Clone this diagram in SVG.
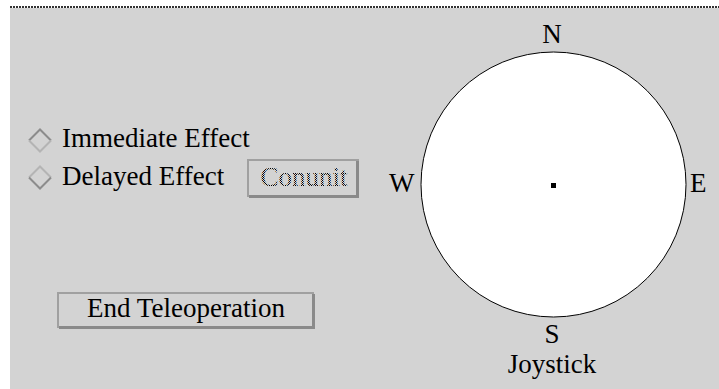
<svg xmlns="http://www.w3.org/2000/svg" width="719" height="389" viewBox="0 0 719 389">
<defs>
<pattern id="stip" width="2" height="2" patternUnits="userSpaceOnUse">
<rect x="0" y="0" width="1" height="1" fill="#000"/>
<rect x="1" y="1" width="1" height="1" fill="#000"/>
</pattern>
</defs>
<style>
.t{font-family:"Liberation Serif","Times New Roman",serif;font-size:27px;fill:#000}
.c{text-anchor:middle}
.dk{fill:none;stroke:#8c8c8c;stroke-width:2}
.lt{fill:none;stroke:#b4b4b4;stroke-width:2}
.btn-face{fill:#d3d3d3;stroke:#a0a0a0;stroke-width:2}
.btn-shadow{fill:none;stroke:#8a8a8a;stroke-width:3}
</style>
<rect x="0" y="0" width="719" height="389" fill="#fff"/>
<rect x="10" y="8" width="709" height="381" fill="#d3d3d3"/>
<line x1="10" y1="7" x2="719" y2="7" stroke="#333" stroke-width="2" stroke-dasharray="2 1"/>

<g id="immediate">
<polyline class="dk" points="29,140.5 40,129.5 51,140.5"/>
<polyline class="lt" points="29,140.5 40,151.5 51,140.5"/>
<text class="t" x="62" y="147">Immediate Effect</text>
</g>
<g id="delayed">
<polyline class="lt" points="29,177.5 40,166.5 51,177.5"/>
<polyline class="dk" points="29,177.5 40,188.5 51,177.5"/>
<text class="t" x="62" y="185">Delayed Effect</text>
</g>
<g id="conunit">
<rect class="btn-face" x="248" y="160" width="110" height="36"/>
<polyline class="btn-shadow" points="249,196.5 357.5,196.5 357.5,161"/>
<text class="t c" x="304" y="186" style="fill:url(#stip)">Conunit</text>
</g>
<g id="end">
<rect class="btn-face" x="58" y="293" width="255" height="34"/>
<polyline class="btn-shadow" points="59,327.5 313.5,327.5 313.5,294"/>
<text class="t c" x="186" y="317">End Teleoperation</text>
</g>
<g id="joystick">
<circle cx="553.5" cy="184.5" r="132.5" fill="#fff" stroke="#000" stroke-width="1"/>
<rect x="551" y="183" width="5" height="5" fill="#000"/>
<text class="t c" x="552" y="43">N</text>
<text class="t c" x="552" y="343">S</text>
<text class="t" x="389" y="192">W</text>
<text class="t" x="690" y="192">E</text>
<text class="t c" x="552" y="373">Joystick</text>
</g>
</svg>
